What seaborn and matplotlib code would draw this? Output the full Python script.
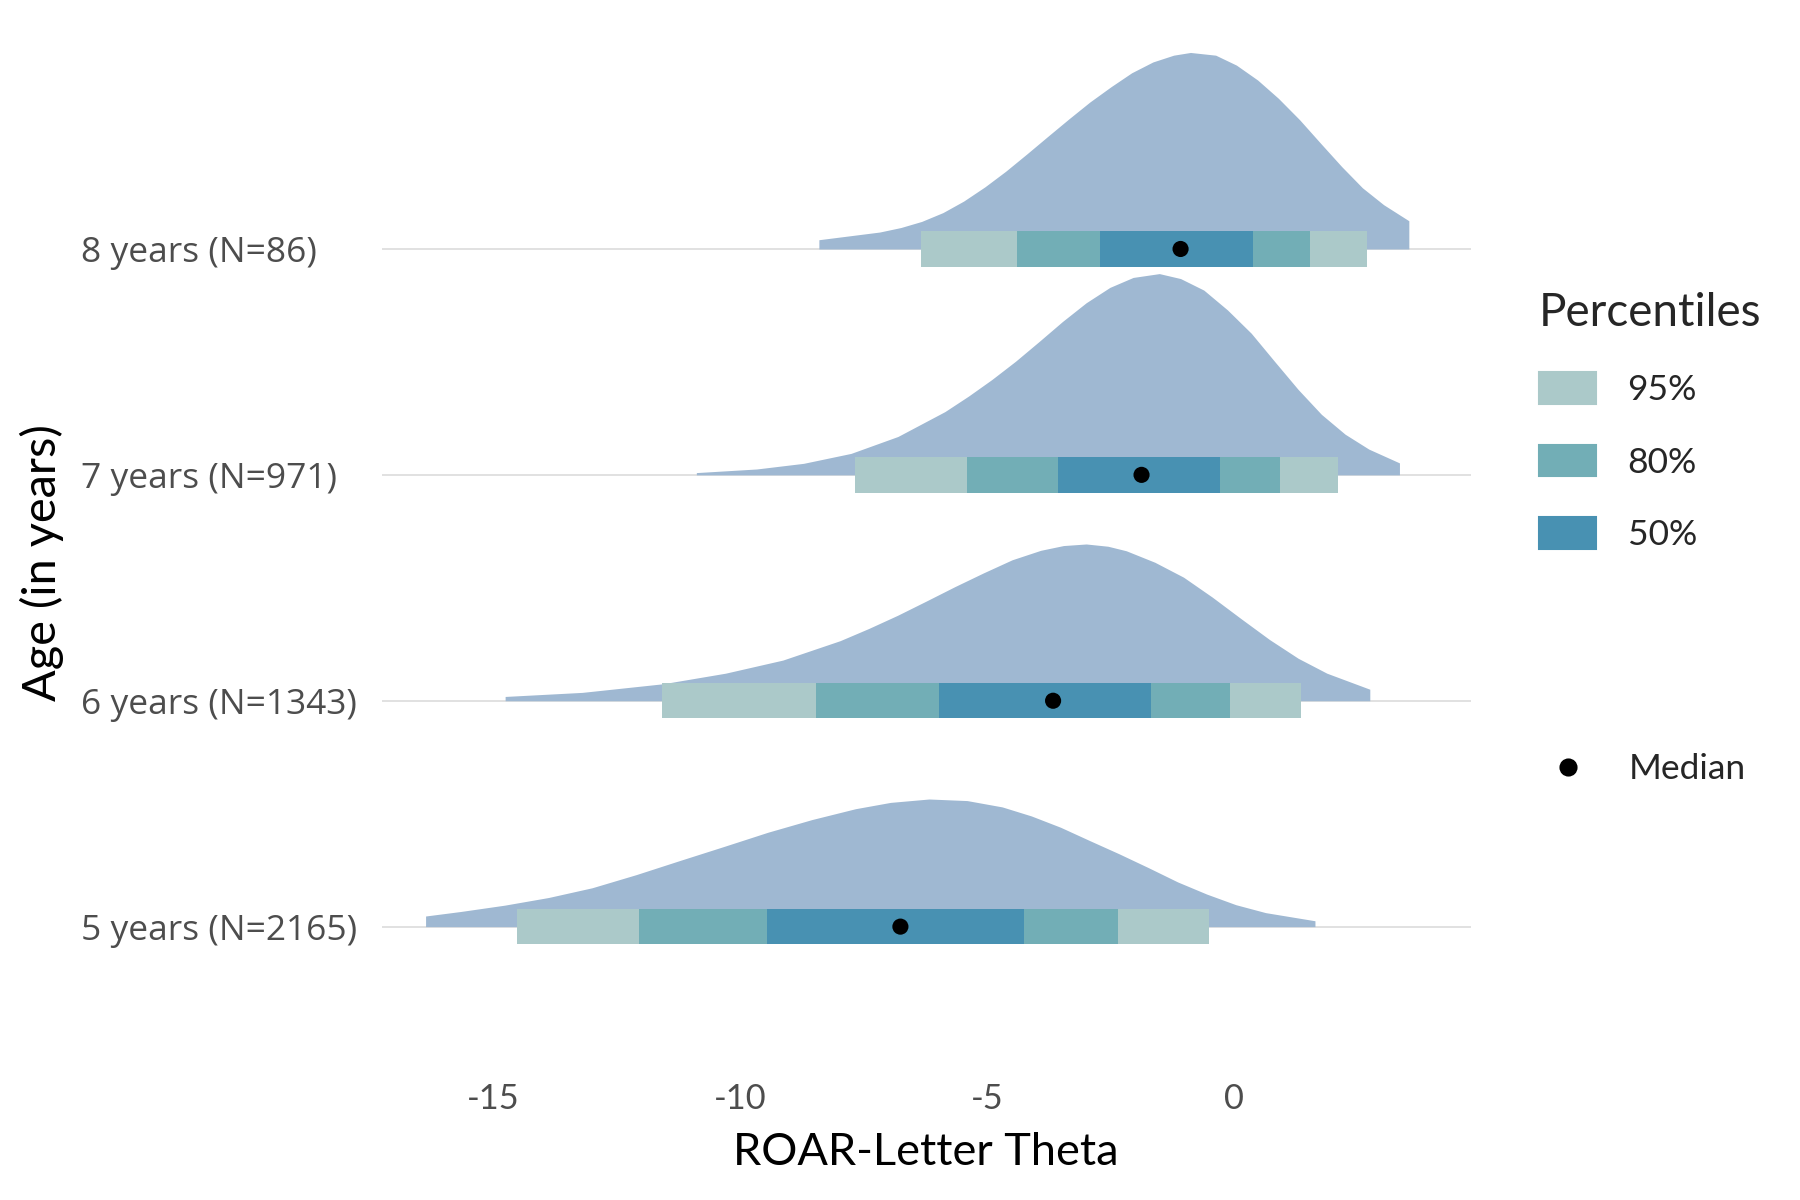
import numpy as np
import matplotlib
matplotlib.use('Agg')
import matplotlib.pyplot as plt
from matplotlib.patches import Patch
from matplotlib.lines import Line2D
import seaborn as sns

# groups, bottom to top
age_labels = ['5 years (N=2165)', '6 years (N=1343)', '7 years (N=971)', '8 years (N=86)']

# interval summaries
medians = [-6.75, -3.66, -1.87, -1.08]
lo95 = [-14.5, -11.58, -7.66, -6.33]
hi95 = [-0.5, 1.35, 2.1, 2.69]
lo80 = [-12.05, -8.45, -5.4, -4.4]
hi80 = [-2.35, -0.07, 0.93, 1.54]
lo50 = [-9.45, -5.96, -3.57, -2.72]
hi50 = [-4.25, -1.68, -0.28, 0.38]

# density outlines (x, height in row units)
dens_x_5 = [-16.36, -15.65, -14.76, -13.87, -12.99, -12.10, -11.21, -10.32, -9.43, -8.54, -7.66, -6.95,
            -6.17, -5.40, -4.69, -4.10, -3.51, -2.92, -2.33, -1.73, -1.14, -0.55, 0.04, 0.64, 1.64]
dens_h_5 = [0.047, 0.067, 0.095, 0.129, 0.172, 0.230, 0.293, 0.355, 0.418, 0.474, 0.522, 0.550,
            0.565, 0.558, 0.530, 0.490, 0.440, 0.381, 0.323, 0.261, 0.198, 0.144, 0.097, 0.062, 0.026]

dens_x_6 = [-14.75, -13.19, -11.56, -10.29, -9.13, -7.97, -7.39, -6.81, -6.23, -5.65, -5.07, -4.49,
            -3.91, -3.45, -2.99, -2.55, -2.18, -1.60, -1.02, -0.44, 0.14, 0.72, 1.30, 1.88, 2.75]
dens_h_6 = [0.019, 0.037, 0.075, 0.122, 0.180, 0.266, 0.320, 0.378, 0.441, 0.505, 0.566, 0.624,
            0.666, 0.687, 0.694, 0.684, 0.664, 0.613, 0.547, 0.459, 0.364, 0.271, 0.188, 0.122, 0.051]

dens_x_7 = [-10.88, -9.66, -8.71, -7.75, -6.80, -5.85, -5.37, -4.90, -4.42, -3.94, -3.47, -2.99, -2.51,
            -2.04, -1.51, -1.08, -0.61, -0.13, 0.35, 0.82, 1.30, 1.77, 2.25, 2.73, 3.35]
dens_h_7 = [0.010, 0.026, 0.051, 0.095, 0.170, 0.280, 0.349, 0.422, 0.503, 0.591, 0.679, 0.762, 0.830,
            0.874, 0.891, 0.869, 0.818, 0.730, 0.627, 0.503, 0.378, 0.268, 0.180, 0.114, 0.053]

dens_x_8 = [-8.40, -7.17, -6.74, -6.32, -5.89, -5.47, -5.04, -4.62, -4.19, -3.77, -3.34, -2.92, -2.49,
            -2.07, -1.64, -1.22, -0.88, -0.37, 0.05, 0.48, 0.90, 1.33, 1.75, 2.18, 2.60, 3.03, 3.54]
dens_h_8 = [0.041, 0.075, 0.095, 0.122, 0.161, 0.212, 0.275, 0.344, 0.421, 0.498, 0.576, 0.650, 0.718,
            0.780, 0.828, 0.858, 0.870, 0.858, 0.814, 0.748, 0.667, 0.572, 0.469, 0.365, 0.271, 0.196, 0.125]

x_ticks = [-15, -10, -5, 0]
x_tick_labels = ['-15', '-10', '-5', '0']
level_labels = ['95%', '80%', '50%']

slab_col = '#9fb8d2'
c95, c80, c50 = '#abc9c9', '#72aeb6', '#4891b2'

sns.set_theme(style='white')
plt.rcParams['font.family'] = ['Lato', 'DejaVu Sans']

fig = plt.figure(figsize=(12, 8), dpi=150)
ax = fig.add_axes([0.212, 0.10, 0.605, 0.88])

rows = np.arange(len(age_labels))
for r in rows:
    ax.axhline(r, color='#dcdcdc', lw=0.8, zorder=0)

dens = [(dens_x_5, dens_h_5), (dens_x_6, dens_h_6), (dens_x_7, dens_h_7), (dens_x_8, dens_h_8)]
for r, (dx, dh) in zip(rows, dens):
    ax.fill_between(dx, r, r + np.array(dh), color=slab_col, lw=0, zorder=1)

bar_h = 0.157
for lo, hi, col in [(lo95, hi95, c95), (lo80, hi80, c80), (lo50, hi50, c50)]:
    ax.barh(rows, np.array(hi) - np.array(lo), left=lo, height=bar_h, color=col, lw=0, zorder=2)

sns.scatterplot(x=medians, y=rows, color='black', s=60, edgecolor='none', zorder=3, ax=ax, legend=False)

ax.set_xlim(-17.25, 4.79)
ax.set_ylim(-0.679, 3.996)
ax.set_xticks(x_ticks, x_tick_labels)
ax.set_yticks(rows, age_labels)
ax.tick_params(axis='both', length=0)
ax.tick_params(axis='x', pad=1.5, labelsize=16.5, labelcolor='#4d4d4d')
ax.tick_params(axis='y', pad=144.5, labelsize=17, labelcolor='#4d4d4d')
for lab in ax.get_yticklabels():
    lab.set_ha('left')
    lab.set_family(['Open Sans', 'DejaVu Sans'])
sns.despine(ax=ax, left=True, bottom=True, top=True, right=True)

ax.set_xlabel('ROAR-Letter Theta', fontsize=21.7, color='black', labelpad=8)
ax.set_ylabel('Age (in years)', fontsize=22.5, color='black')
ax.yaxis.set_label_coords(-0.292, 0.49)

handles = [Patch(color=c, label=l) for c, l in zip([c95, c80, c50], level_labels)]
fig.legend(handles=handles, title='Percentiles', loc='upper left', bbox_to_anchor=(0.855, 0.7565),
           frameon=False, fontsize=17, title_fontsize=22, handlelength=1.6, handleheight=1.0,
           labelspacing=1.08, handletextpad=0.9, borderpad=0, borderaxespad=0, alignment='left')
med = [Line2D([], [], marker='o', color='black', linestyle='none', markersize=7.7, label='Median')]
fig.legend(handles=med, loc='center left', bbox_to_anchor=(0.8555, 0.359), frameon=False, fontsize=17,
           handlelength=1.6, handletextpad=0.9, borderpad=0, borderaxespad=0)

fig.savefig('out.png', dpi=150)
